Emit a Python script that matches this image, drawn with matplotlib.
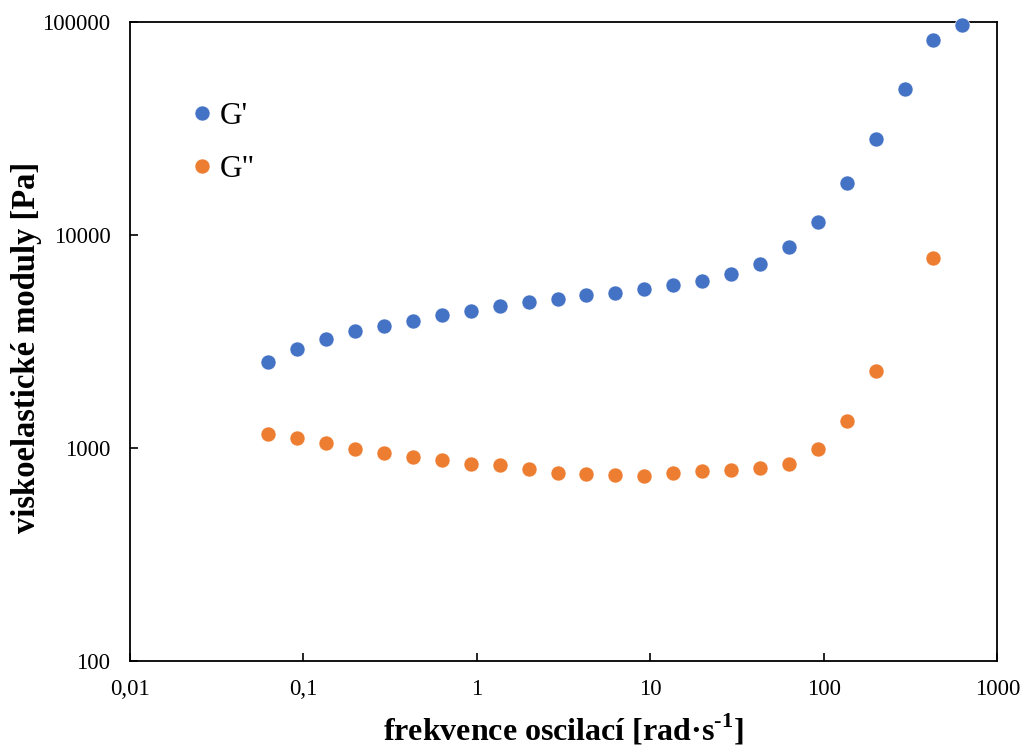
import numpy as np
import matplotlib.pyplot as plt
from matplotlib.ticker import FixedLocator, FixedFormatter, NullLocator

# --- data ---
freq = [0.0628, 0.0921, 0.135, 0.199, 0.292, 0.428, 0.628, 0.921, 1.35, 1.99,
        2.92, 4.28, 6.28, 9.21, 13.5, 19.9, 29.2, 42.8, 62.8, 92.1,
        135, 199, 292, 428, 628]
g_stor = [2540, 2920, 3240, 3520, 3750, 3960, 4200, 4400, 4610, 4830,
          5010, 5210, 5360, 5575, 5800, 6100, 6560, 7260, 8750, 11500,
          17500, 28300, 48300, 81700, 96800]
g_loss = [1164, 1114, 1059, 993, 944, 910, 879, 841, 832, 800,
          766, 757, 747, 737, 761, 778, 788, 808, 841, 985,
          1343, 2290, np.nan, 7800, np.nan]

x_ticks = [0.01, 0.1, 1, 10, 100, 1000]
x_labels = ['0,01', '0,1', '1', '10', '100', '1000']
y_ticks = [100, 1000, 10000, 100000]
y_labels = ['100', '1000', '10000', '100000']

BLUE = '#4472C4'
ORANGE = '#ED7D31'

plt.rcParams['font.family'] = ['Liberation Serif', 'DejaVu Serif']
plt.rcParams['mathtext.fontset'] = 'custom'
plt.rcParams['mathtext.rm'] = 'Liberation Serif:bold'
plt.rcParams['mathtext.bf'] = 'Liberation Serif:bold'

fig = plt.figure(figsize=(10.23, 7.47), dpi=100)
ax = fig.add_axes([0.127, 0.115, 0.848, 0.856])

ax.plot(freq, g_stor, 'o', color=BLUE, ms=10.8, mec='white', mew=0.4,
        label="G'", clip_on=False, zorder=3)
ax.plot(freq, g_loss, 'o', color=ORANGE, ms=10.8, mec='white', mew=0.4,
        label='G"', clip_on=False, zorder=3)

ax.set_xscale('log')
ax.set_yscale('log')
ax.set_xlim(0.01, 1000)
ax.set_ylim(100, 100000)

ax.xaxis.set_major_locator(FixedLocator(x_ticks))
ax.xaxis.set_major_formatter(FixedFormatter(x_labels))
ax.yaxis.set_major_locator(FixedLocator(y_ticks))
ax.yaxis.set_major_formatter(FixedFormatter(y_labels))
ax.xaxis.set_minor_locator(NullLocator())
ax.yaxis.set_minor_locator(NullLocator())

ax.tick_params(axis='x', direction='in', length=6, width=1.2, labelsize=16.5, pad=13)
ax.tick_params(axis='y', direction='in', length=6, width=1.2, labelsize=16.5, pad=14)

for s in ax.spines.values():
    s.set_linewidth(1.3)
    s.set_color('black')

ax.set_xlabel('frekvence oscilací [rad·s$^{\\text{-1}}$]', fontsize=23,
              fontweight='bold', labelpad=9)
ax.set_ylabel('viskoelastické moduly [Pa]', fontsize=23.5, fontweight='bold')
ax.yaxis.set_label_coords(-0.101, 0.49)

ax.legend(loc='upper left', bbox_to_anchor=(0.051, 0.894), frameon=False,
          fontsize=22.5, handlelength=1.0, handletextpad=0.05, labelspacing=0.78,
          borderaxespad=0, markerscale=1.0)

fig.savefig('out.png', dpi=100)
